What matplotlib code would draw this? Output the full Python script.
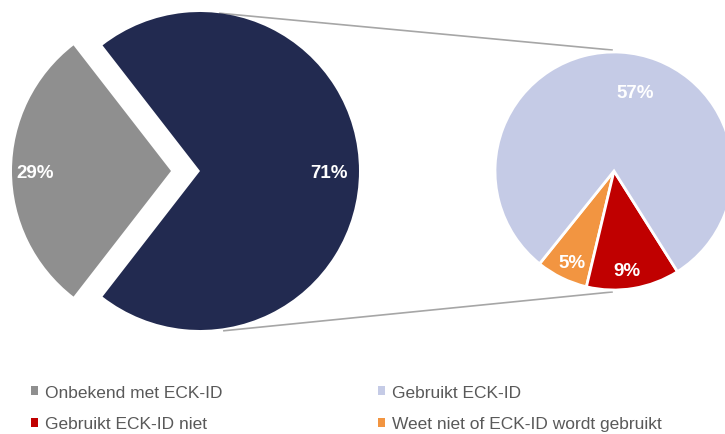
import numpy as np
import matplotlib
matplotlib.use("Agg")
import matplotlib.pyplot as plt
from matplotlib.patches import Patch

plt.rcParams['font.family'] = ['Liberation Sans', 'DejaVu Sans']

# data
main_labels = ["Onbekend met ECK-ID", "Bekend met ECK-ID"]
main_values = [29, 71]
main_colors = ["#8F8F8F", "#222A50"]

sub_labels = ["Weet niet of ECK-ID wordt gebruikt", "Gebruikt ECK-ID niet", "Gebruikt ECK-ID"]
sub_values = [5, 9, 57]
sub_colors = ["#F29541", "#C00000", "#C5CBE6"]

legend_order = ["Onbekend met ECK-ID", "Gebruikt ECK-ID niet", "Gebruikt ECK-ID", "Weet niet of ECK-ID wordt gebruikt"]

W, H = 725, 435
fig = plt.figure(figsize=(W / 100, H / 100), dpi=100)
ax = fig.add_axes([0, 0, 1, 1])

# main pie
c1 = (200, 263)
r1 = 159
grey_angle = main_values[0] / sum(main_values) * 360
start = 180 - grey_angle / 2
w1, t1 = ax.pie(main_values, colors=main_colors, startangle=start, center=c1, radius=r1,
                explode=[29, 0], counterclock=True,
                wedgeprops=dict(linewidth=0), frame=True)

# sub pie
c2 = (614, 263)
r2 = 119
orange_start = -128.75
w2, t2 = ax.pie(sub_values, colors=sub_colors, startangle=orange_start, center=c2, radius=r2,
                counterclock=True, wedgeprops=dict(linewidth=2, edgecolor='white'), frame=True)

ax.set_xlim(0, W)
ax.set_ylim(0, H)
ax.set_aspect('equal')
ax.axis('off')

lab_kw = dict(color="white", fontsize=13.5, fontweight='bold', ha='center', va='center', zorder=5)
ax.text(35, H - 173, f"{main_values[0]}%", **lab_kw)
ax.text(329, H - 173, f"{main_values[1]}%", **lab_kw)
ax.text(572, H - 264, f"{sub_values[0]}%", **lab_kw)
ax.text(627, H - 272, f"{sub_values[1]}%", **lab_kw)
ax.text(635, H - 93, f"{sub_values[2]}%", **lab_kw)

# connector lines
a = np.deg2rad(82.8)
ax.plot([c1[0] + r1 * np.cos(a), c2[0] - 2], [c1[1] + r1 * np.sin(a), c2[1] + r2 + 2],
        color="#A6A6A6", lw=1.2, zorder=0)
ax.plot([c1[0] + r1 * np.cos(a) + 4, c2[0] - 2], [c1[1] - r1 * np.sin(a) - 2, c2[1] - r2 - 2],
        color="#A6A6A6", lw=1.2, zorder=0)

# legend
color_map = dict(zip(main_labels + sub_labels, main_colors + sub_colors))
handles = [Patch(facecolor=color_map[l], edgecolor='none') for l in legend_order]
leg = ax.legend(handles, legend_order, ncol=2, loc='upper left', bbox_to_anchor=(31 / W, 1 - 386 / H),
                frameon=False, fontsize=12.5, handlelength=0.4, handleheight=0.4, handletextpad=0.4,
                columnspacing=8.95, labelspacing=0.95, borderaxespad=0, borderpad=0)
for t in leg.get_texts():
    t.set_color("#595959")

fig.savefig("out.png", dpi=100)
